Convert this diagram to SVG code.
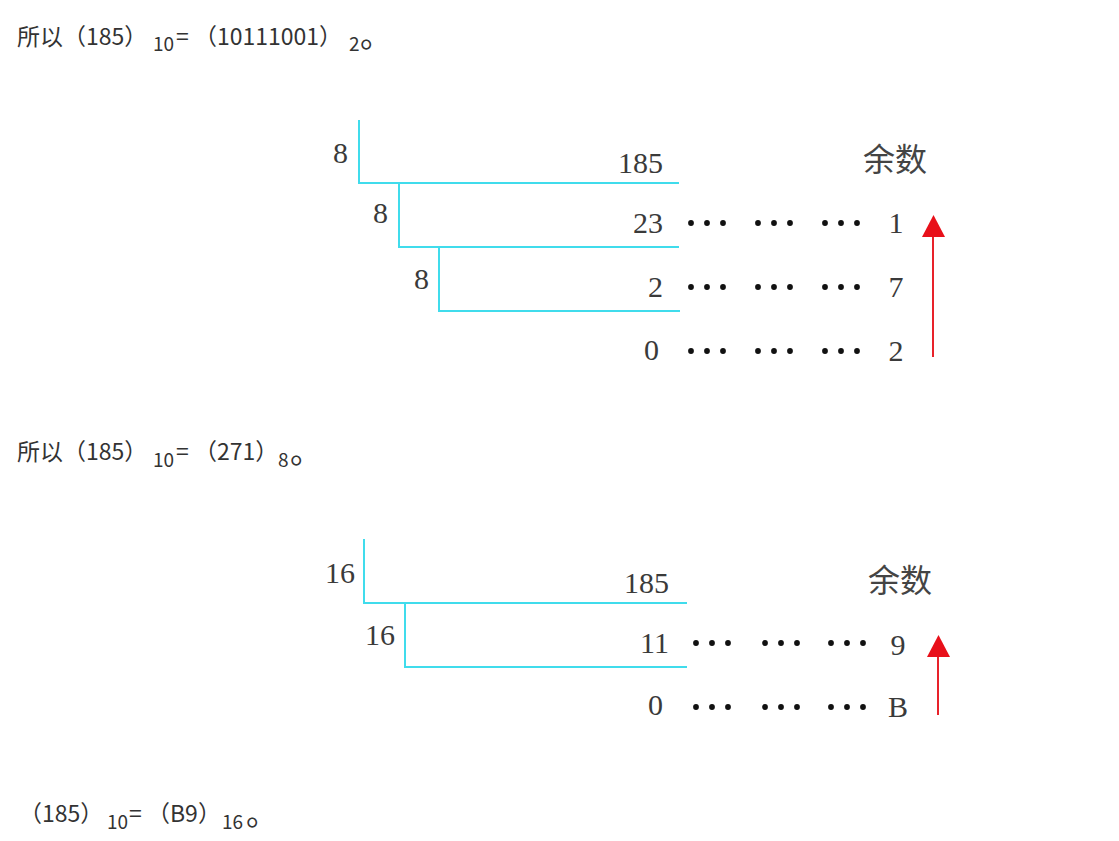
<svg xmlns="http://www.w3.org/2000/svg" width="1119" height="841" viewBox="0 0 1119 841">
<style>
.t{font-family:"Noto Sans CJK SC","Liberation Sans",sans-serif;font-size:23px;fill:#333}
.s{font-family:"Noto Sans CJK SC","Liberation Sans",sans-serif;font-size:19px;fill:#333}
.p{font-family:"Noto Sans CJK SC",sans-serif;font-size:32px;fill:#333}
.n{font-family:"Liberation Serif",serif;font-size:30px;fill:#3a3a3a}
.c{font-family:"Noto Sans CJK SC",sans-serif;font-size:32px;fill:#444}
.cy{fill:none;stroke:#40dcec;stroke-width:2}
.ar{stroke:#e8222a;stroke-width:2;fill:none}
.ah{fill:#e8101a}
.d{fill:#111}
</style>
<defs>
<g id="dots"><circle cx="3" cy="0" r="2.9"/><circle cx="19" cy="0" r="2.9"/><circle cx="35" cy="0" r="2.9"/></g>
</defs>
<rect width="1119" height="841" fill="#fff"/>
<g id="line1">
<text class="t" x="17" y="45">所以（185）</text>
<text class="s" x="153" y="51">10</text>
<text class="t" x="176" y="45">=</text>
<text class="t" x="194" y="45">（10111001）</text>
<text class="s" x="349" y="51">2</text>
<text class="p" x="360" y="47">。</text>
</g>
<g id="line2">
<text class="t" x="17" y="460">所以（185）</text>
<text class="s" x="153" y="467">10</text>
<text class="t" x="176" y="460">=</text>
<text class="t" x="194" y="460">（271）</text>
<text class="s" x="278" y="467">8</text>
<text class="p" x="290" y="463">。</text>
</g>
<g id="line3">
<text class="t" x="19" y="822">（185）</text>
<text class="s" x="107" y="829">10</text>
<text class="t" x="129" y="822">=</text>
<text class="t" x="147" y="822">（B9）</text>
<text class="s" x="222" y="829">16</text>
<text class="p" x="246" y="825">。</text>
</g>
<g id="diagram1">
<g id="connectors1">
<path class="cy" d="M359,120 V183 H679"/>
<path class="cy" d="M399,183 V247 H679"/>
<path class="cy" d="M439,247 V311 H680"/>
<path class="ar" d="M933,357 V236"/>
<polygon class="ah" points="922,237 945,237 933.5,215"/>
</g>
<g id="divisors1">
<text class="n" x="333" y="163">8</text>
<text class="n" x="373" y="223">8</text>
<text class="n" x="414" y="289">8</text>
</g>
<g id="quotients1" text-anchor="end">
<text class="n" x="663" y="173">185</text>
<text class="n" x="663" y="233">23</text>
<text class="n" x="663" y="297">2</text>
<text class="n" x="659" y="360">0</text>
</g>
<g id="dots1" class="d">
<use href="#dots" x="688" y="223"/><use href="#dots" x="755" y="223"/><use href="#dots" x="822" y="223"/>
<use href="#dots" x="688" y="287"/><use href="#dots" x="755" y="287"/><use href="#dots" x="822" y="287"/>
<use href="#dots" x="688" y="351"/><use href="#dots" x="755" y="351"/><use href="#dots" x="822" y="351"/>
</g>
<g id="remainders1" text-anchor="middle">
<text class="c" x="895" y="171">余数</text>
<text class="n" x="896" y="233">1</text>
<text class="n" x="896" y="297">7</text>
<text class="n" x="896" y="361">2</text>
</g>
</g>
<g id="diagram2">
<g id="connectors2">
<path class="cy" d="M364,539 V603 H687"/>
<path class="cy" d="M405,603 V667 H687"/>
<path class="ar" d="M938,715 V656"/>
<polygon class="ah" points="927,657 950,657 938.5,635"/>
</g>
<g id="divisors2">
<text class="n" x="325" y="583">16</text>
<text class="n" x="365" y="645">16</text>
</g>
<g id="quotients2" text-anchor="end">
<text class="n" x="669" y="593">185</text>
<text class="n" x="669" y="653">11</text>
<text class="n" x="663" y="715">0</text>
</g>
<g id="dots2" class="d">
<use href="#dots" x="693" y="643"/><use href="#dots" x="762" y="643"/><use href="#dots" x="828" y="643"/>
<use href="#dots" x="693" y="707"/><use href="#dots" x="762" y="707"/><use href="#dots" x="828" y="707"/>
</g>
<g id="remainders2" text-anchor="middle">
<text class="c" x="900" y="592">余数</text>
<text class="n" x="898" y="655">9</text>
<text class="n" x="898" y="717">B</text>
</g>
</g>
</svg>
